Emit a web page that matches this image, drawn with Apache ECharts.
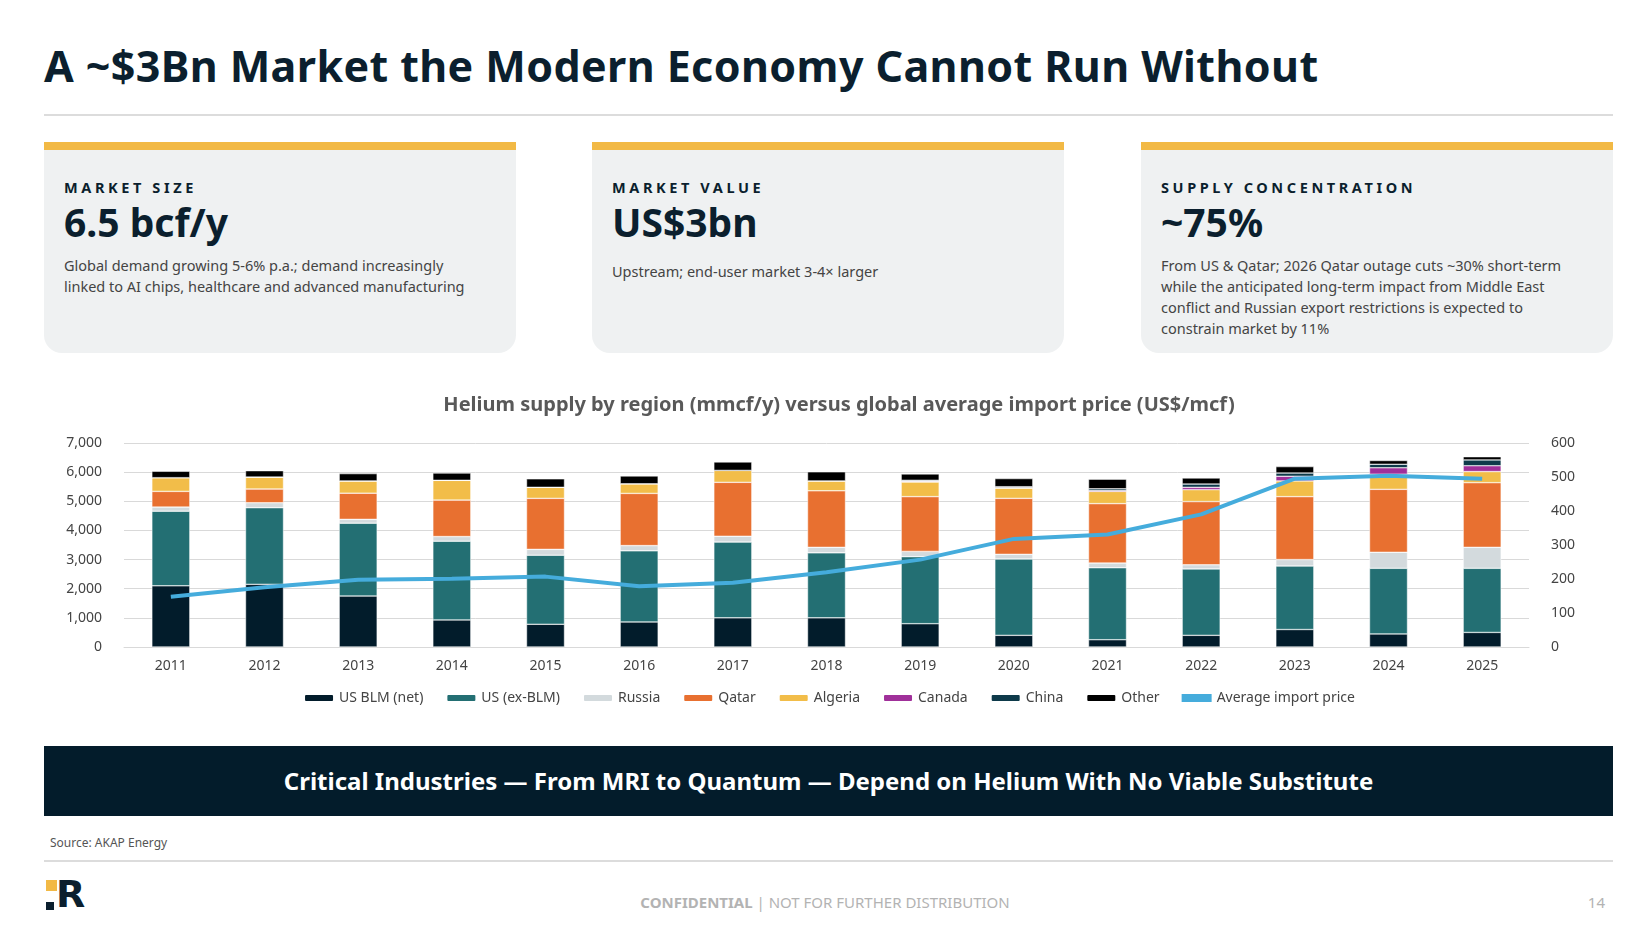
<!DOCTYPE html>
<html>
<head>
<meta charset="utf-8">
<script src="https://cdn.jsdelivr.net/npm/echarts@6/dist/echarts.min.js"></script>
<style>
  body { margin: 0; width: 1650px; height: 938px; background: #fff; font-family: 'Noto Sans', sans-serif; color: #0c2233; position: relative; overflow: hidden; }
  .abs { position: absolute; }
  h1 { position: absolute; left: 44px; top: 36px; margin: 0; font-size: 43px; font-weight: 700; color: #0b1f2e; letter-spacing: 0.4px; }
  .rule { position: absolute; left: 44px; width: 1569px; height: 2px; background: #dcdcdc; }
  .card { position: absolute; top: 142px; width: 472px; height: 211px; background: #eff1f2; border-radius: 0 0 18px 18px; border-top: 8px solid #f2b945; box-sizing: border-box; padding: 27px 20px 0 20px; }
  .card .lbl { font-size: 14.5px; font-weight: 700; letter-spacing: 3.6px; color: #0b1f2e; }
  .card .val { font-size: 39px; font-weight: 700; color: #0b1f2e; line-height: 50px; }
  .card .desc { font-size: 14.5px; color: #444; line-height: 21px; margin-top: 8px; width: 420px; }
  .banner { position: absolute; left: 44px; top: 746px; width: 1569px; height: 70px; background: #031c2b; color: #fff; font-size: 24px; font-weight: 700; text-align: center; line-height: 70px; }
</style>
</head>
<body>
<h1>A ~$3Bn Market the Modern Economy Cannot Run Without</h1>
<div class="rule" style="top:114px"></div>

<div class="card" style="left:44px">
  <div class="lbl">MARKET SIZE</div>
  <div class="val">6.5 bcf/y</div>
  <div class="desc">Global demand growing 5-6% p.a.; demand increasingly linked to AI chips, healthcare and advanced manufacturing</div>
</div>
<div class="card" style="left:592px">
  <div class="lbl">MARKET VALUE</div>
  <div class="val">US$3bn</div>
  <div class="desc" style="margin-top:14px">Upstream; end-user market 3-4× larger</div>
</div>
<div class="card" style="left:1141px">
  <div class="lbl">SUPPLY CONCENTRATION</div>
  <div class="val">~75%</div>
  <div class="desc">From US &amp; Qatar; 2026 Qatar outage cuts ~30% short-term while the anticipated long-term impact from Middle East conflict and Russian export restrictions is expected to constrain market by 11%</div>
</div>

<div id="chart" class="abs" style="left:44px; top:380px; width:1570px; height:350px;"></div>

<div class="banner">Critical Industries — From MRI to Quantum — Depend on Helium With No Viable Substitute</div>
<div class="abs" style="left:50px; top:834px; font-size:12px; color:#555;">Source: AKAP Energy</div>
<div class="rule" style="top:860px"></div>
<div class="abs" style="left:46px; top:880px; width:11px; height:11px; background:#f2b945"></div>
<div class="abs" style="left:46px; top:902px; width:8px; height:8px; background:#0b1f2e"></div>
<div class="abs" style="left:56px; top:871px; font-size:38px; font-weight:700; color:#0b1f2e; font-family:'DejaVu Sans'; line-height:46px;">R</div>
<div class="abs" style="left:0; width:1650px; top:892px; text-align:center; font-size:15px; color:#b3b3b3;"><b>CONFIDENTIAL</b> | NOT FOR FURTHER DISTRIBUTION</div>
<div class="abs" style="left:1580px; width:25px; top:892px; text-align:right; font-size:15px; color:#b3b3b3;">14</div>

<script>
const years = ['2011','2012','2013','2014','2015','2016','2017','2018','2019','2020','2021','2022','2023','2024','2025'];
const usBlm   = [2100, 2150, 1750, 930, 780, 860, 1000, 1000, 800, 400, 250, 400, 600, 450, 500];
const usExBlm = [2560, 2630, 2500, 2700, 2370, 2440, 2600, 2230, 2300, 2620, 2470, 2280, 2180, 2250, 2200];
const russia  = [140, 170, 130, 160, 200, 180, 200, 190, 180, 160, 160, 140, 220, 550, 720];
const qatar   = [540, 470, 900, 1250, 1750, 1790, 1850, 1940, 1880, 1920, 2040, 2170, 2160, 2160, 2220];
const algeria = [470, 410, 420, 680, 380, 330, 410, 340, 500, 350, 420, 410, 540, 520, 380];
const canada  = [0, 0, 0, 0, 0, 0, 0, 0, 30, 20, 30, 80, 160, 220, 200];
const china   = [0, 0, 0, 0, 0, 0, 0, 0, 30, 30, 60, 110, 110, 120, 200];
const other   = [220, 220, 250, 250, 290, 270, 290, 310, 220, 280, 330, 210, 220, 130, 110];
const price   = [148, 176, 198, 201, 207, 179, 189, 220, 257, 318, 331, 390, 495, 504, 495];

const chart = echarts.init(document.getElementById('chart'));
const font = "'Noto Sans', sans-serif";
const bar = (name, data, color) => ({
  name, type: 'bar', stack: 'supply', data, barWidth: 38,
  itemStyle: { color, borderColor: '#fff', borderWidth: 0.5 }
});
chart.setOption({
  animation: false,
  textStyle: { fontFamily: font },
  title: {
    text: 'Helium supply by region (mmcf/y) versus global average import price (US$/mcf)',
    left: 790, textAlign: 'center', top: 10,
    textStyle: { fontSize: 20, fontWeight: 700, color: '#595959', fontFamily: font }
  },
  grid: { left: 80, right: 85, top: 63, bottom: 83 },
  legend: {
    bottom: 20, left: 'center', itemWidth: 30, itemHeight: 8, itemGap: 22,
    textStyle: { fontSize: 14, color: '#444' },
    data: ['US BLM (net)', 'US (ex-BLM)', 'Russia', 'Qatar', 'Algeria', 'Canada', 'China', 'Other',
      { name: 'Average import price', icon: 'rect' }]
  },
  xAxis: {
    type: 'category', data: years,
    axisLine: { lineStyle: { color: '#d9d9d9' } }, axisTick: { show: false },
    axisLabel: { fontSize: 14, color: '#444', margin: 12 }
  },
  yAxis: [
    { type: 'value', min: 0, max: 7000, interval: 1000,
      axisLabel: { fontSize: 14, color: '#444', formatter: v => v.toLocaleString('en-US'), margin: 22 },
      splitLine: { lineStyle: { color: '#d9d9d9' } } },
    { type: 'value', min: 0, max: 600, interval: 100,
      axisLabel: { fontSize: 14, color: '#444', margin: 22 }, splitLine: { show: false } }
  ],
  series: [
    bar('US BLM (net)', usBlm, '#021c2b'),
    bar('US (ex-BLM)', usExBlm, '#236f73'),
    bar('Russia', russia, '#d3dadd'),
    bar('Qatar', qatar, '#e87030'),
    bar('Algeria', algeria, '#f2bd49'),
    bar('Canada', canada, '#a0309a'),
    bar('China', china, '#0e3a4a'),
    bar('Other', other, '#000000'),
    { name: 'Average import price', type: 'line', yAxisIndex: 1, data: price,
      symbol: 'none', lineStyle: { color: '#45acdc', width: 4 }, itemStyle: { color: '#45acdc' } }
  ]
});
</script>
</body>
</html>
